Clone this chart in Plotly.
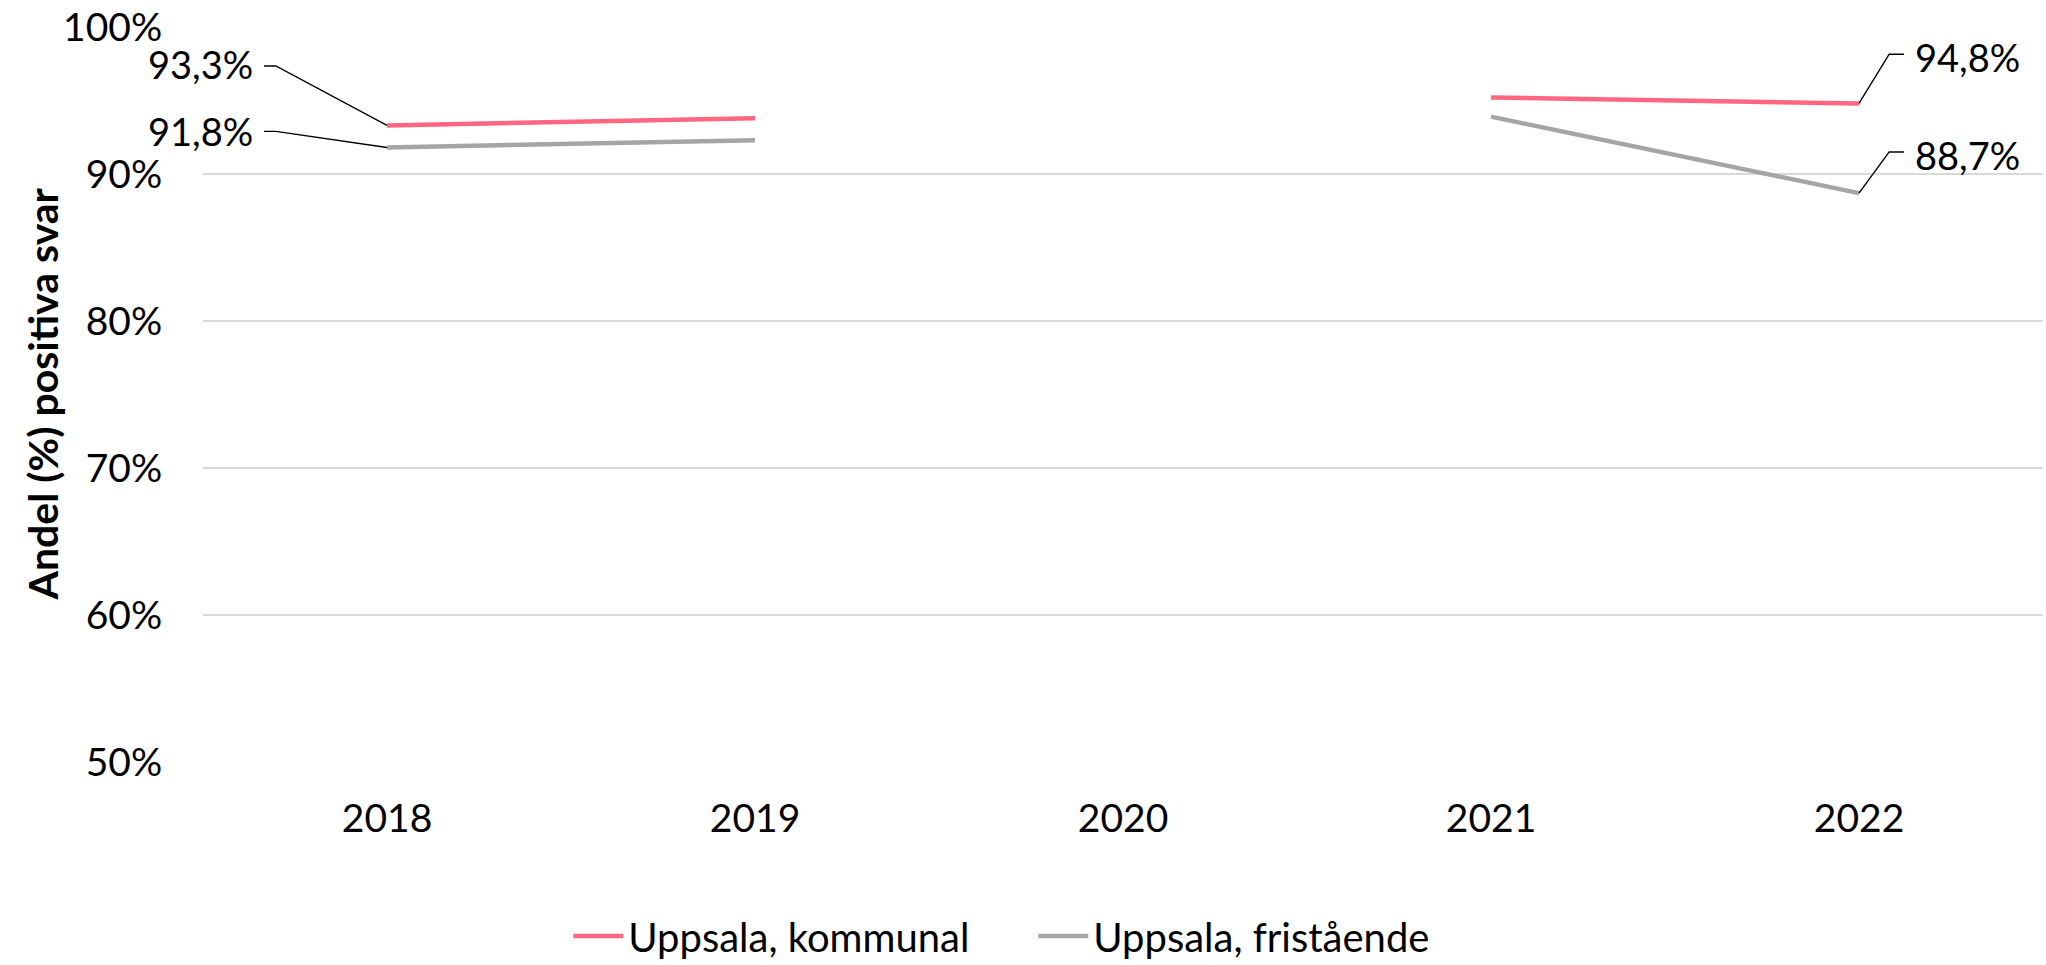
import plotly.graph_objects as go

years = [2018, 2019, 2020, 2021, 2022]
kommunal = [93.3, 93.8, None, 95.2, 94.8]
fristaende = [91.8, 92.3, None, 93.9, 88.7]
series_names = ["Uppsala, kommunal", "Uppsala, fristående"]
y_tickvals = [50, 60, 70, 80, 90, 100]
y_ticktext = ["50%", "60%", "70%", "80%", "90%", "100%"]
y_title = "Andel (%) positiva svar"

PINK = "#FF6680"
GRAY = "#A5A5A5"
FONT = "Lato"

fig = go.Figure()
fig.add_trace(go.Scatter(x=years, y=kommunal, name=series_names[0], mode="lines",
                         line=dict(color=PINK, width=4.5), connectgaps=False))
fig.add_trace(go.Scatter(x=years, y=fristaende, name=series_names[1], mode="lines",
                         line=dict(color=GRAY, width=4.5), connectgaps=False))

# data labels with leader lines: (series, index, side, leader dy, text dy)
label_specs = [
    (kommunal, 0, "left", 4.05, 4.15),
    (fristaende, 0, "left", 1.1, 1.15),
    (kommunal, 4, "right", 3.35, 3.15),
    (fristaende, 4, "right", 2.8, 2.6),
]

def fmt(v):
    return f"{v:.1f}".replace(".", ",") + "%"

for series, i, side, ldy, tdy in label_specs:
    xv, yv = years[i], series[i]
    if side == "left":
        lx = [xv, xv - 0.302, xv - 0.334]
        tx, anchor = xv - 0.360, "right"
    else:
        lx = [xv, xv + 0.082, xv + 0.122]
        tx, anchor = xv + 0.146, "left"
    fig.add_trace(go.Scatter(x=lx, y=[yv, yv + ldy, yv + ldy], mode="lines",
                             line=dict(color="black", width=1.4), showlegend=False,
                             hoverinfo="skip"))
    fig.add_annotation(x=tx, y=yv + tdy, text=fmt(yv), showarrow=False,
                       xanchor=anchor, yanchor="middle",
                       font=dict(family=FONT, size=38, color="black"))

# y-axis title as a rotated annotation
fig.add_annotation(xref="paper", yref="paper", x=-0.0875, y=0.5,
                   text="<b>" + y_title + "</b>", textangle=-90, showarrow=False,
                   xanchor="center", yanchor="middle",
                   font=dict(family=FONT, size=41, color="black"))

fig.update_layout(
    width=2046, height=965,
    margin=dict(l=203, r=3, t=25, b=203),
    paper_bgcolor="white", plot_bgcolor="white",
    font=dict(family=FONT, size=39, color="black"),
    legend=dict(orientation="h", xref="container", x=0.505, xanchor="center",
                yref="container", y=0.03, yanchor="middle",
                font=dict(family=FONT, size=40, color="black"),
                itemwidth=50, entrywidth=400, entrywidthmode="pixels",
                tracegroupgap=0),
    showlegend=True,
)
fig.update_xaxes(range=[2017.5, 2022.5], tickvals=years, ticktext=[str(y) for y in years],
                 showgrid=False, zeroline=False, showline=False,
                 ticks="outside", ticklen=22, tickcolor="rgba(0,0,0,0)",
                 tickfont=dict(family=FONT, size=39, color="black"))
fig.update_yaxes(range=[50, 100], tickvals=y_tickvals, ticktext=y_ticktext,
                 showgrid=True, gridcolor="#D9D9D9", gridwidth=2,
                 zeroline=False, showline=False,
                 ticks="outside", ticklen=32, tickcolor="rgba(0,0,0,0)",
                 tickfont=dict(family=FONT, size=39, color="black"))

fig.write_html("out.html", config={"displayModeBar": False},
               post_script="document.body.style.margin='0';document.body.style.overflow='hidden';")
